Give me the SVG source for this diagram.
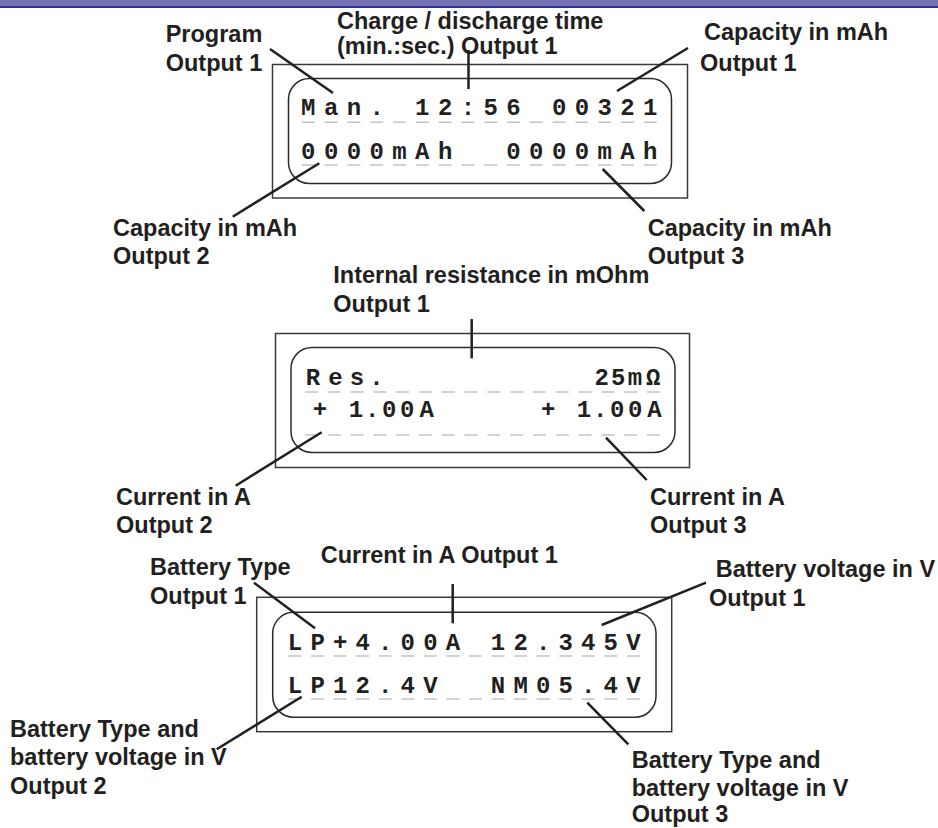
<svg xmlns="http://www.w3.org/2000/svg" width="938" height="828" viewBox="0 0 938 828">
<style>
.lbl{font-family:"Liberation Sans",Arial,sans-serif;font-weight:bold;font-size:23.5px;fill:#231f20}
.lcd{font-family:"Liberation Mono","Courier New",monospace;font-weight:bold;font-size:24px;fill:#231f20;text-anchor:middle;white-space:pre}
.outer{fill:none;stroke:#3a3a3a;stroke-width:1.5}
.inner{fill:none;stroke:#2a2a2a;stroke-width:1.5}
.dash{fill:none;stroke:#c4c4c4;stroke-width:1.5}
.con line{stroke:#231f20;stroke-width:2.5}
</style>
<rect x="0" y="0" width="938" height="828" fill="#ffffff"/>
<rect x="0" y="0" width="938" height="5.5" fill="#7670b4"/>
<rect x="0" y="5.5" width="938" height="2.5" fill="#2e3190"/>

<g id="lcd1">
<rect class="outer" x="272.5" y="64.5" width="415" height="133.5"/>
<rect class="inner" x="288.5" y="78.5" width="383" height="105" rx="21"/>
<path class="dash" stroke-dasharray="13 9.8" d="M301.8 122.3H660M301.8 165H660"/>
<text class="lcd" xml:space="preserve" y="115" x="308.3 331.1 353.9 376.7 399.5 422.3 445.1 467.9 490.7 513.5 536.3 559.1 581.9 604.7 627.5 650.3">Man. 12:56 00321</text>
<text class="lcd" xml:space="preserve" y="159" x="308.3 331.1 353.9 376.7 399.5 422.3 445.1 467.9 490.7 513.5 536.3 559.1 581.9 604.7 627.5 650.3">0000mAh  0000mAh</text>
</g>

<g id="lcd2">
<rect class="outer" x="275.5" y="333.5" width="414" height="134"/>
<rect class="inner" x="291" y="347.5" width="384" height="105" rx="21"/>
<path class="dash" stroke-dasharray="13 9.8" d="M305 392H662M305 435H662"/>
<text class="lcd" y="385" x="313 335.5 357 376.5">Res.</text>
<text class="lcd" y="385" x="601.7 618.3 635 653.3">25mΩ</text>
<text class="lcd" xml:space="preserve" y="417" x="320 338 356 372.3 389.3 407.3 426.7">+ 1.00A</text>
<text class="lcd" xml:space="preserve" y="417" x="548.3 566 584 600.3 617.3 635.3 654.5">+ 1.00A</text>
</g>

<g id="lcd3">
<rect class="outer" x="256.7" y="597.3" width="415" height="134.4"/>
<rect class="inner" x="272.7" y="612.3" width="383.3" height="105" rx="21"/>
<path class="dash" stroke-dasharray="13 9.56" d="M288.5 656H645M288.5 699H645"/>
<text class="lcd" xml:space="preserve" y="650" x="295 317.6 340.1 362.7 385.2 407.8 430.4 452.9 475.5 498 520.6 543.2 565.7 588.3 610.8 633.4">LP+4.00A 12.345V</text>
<text class="lcd" xml:space="preserve" y="693" x="295 317.6 340.1 362.7 385.2 407.8 430.4 452.9 475.5 498 520.6 543.2 565.7 588.3 610.8 633.4">LP12.4V  NM05.4V</text>
</g>

<g id="connectors" class="con">
<line x1="270" y1="49" x2="333" y2="93"/>
<line x1="468.5" y1="50" x2="468.5" y2="89"/>
<line x1="688" y1="48" x2="617" y2="91"/>
<line x1="319.3" y1="163.3" x2="232.7" y2="216.7"/>
<line x1="602.7" y1="169" x2="644.3" y2="211"/>
<line x1="471.7" y1="319" x2="471.7" y2="358.3"/>
<line x1="321.7" y1="432.3" x2="235.7" y2="485.7"/>
<line x1="606" y1="437.7" x2="646.7" y2="480"/>
<line x1="254" y1="582.7" x2="315" y2="628.3"/>
<line x1="452.7" y1="584" x2="452.7" y2="623.3"/>
<line x1="706" y1="582.7" x2="601.7" y2="625"/>
<line x1="301.7" y1="696.7" x2="216.7" y2="749.3"/>
<line x1="587.3" y1="702.7" x2="628.3" y2="744.3"/>
</g>

<g id="lbl-program"><text class="lbl" x="165.7" y="41.7">Program</text><text class="lbl" x="165.7" y="70.7">Output 1</text></g>
<g id="lbl-time"><text class="lbl" x="337" y="29.3">Charge / discharge time</text><text class="lbl" x="337" y="53.5">(min.:sec.) Output 1</text></g>
<g id="lbl-cap1"><text class="lbl" x="704" y="40">Capacity in mAh</text><text class="lbl" x="700" y="70.7">Output 1</text></g>
<g id="lbl-cap2"><text class="lbl" x="113" y="236">Capacity in mAh</text><text class="lbl" x="113" y="264.3">Output 2</text></g>
<g id="lbl-cap3"><text class="lbl" x="647.7" y="236">Capacity in mAh</text><text class="lbl" x="647.7" y="264.3">Output 3</text></g>
<g id="lbl-res"><text class="lbl" x="333.3" y="283.3">Internal resistance in mOhm</text><text class="lbl" x="333.3" y="311.7">Output 1</text></g>
<g id="lbl-cur2"><text class="lbl" x="116" y="505">Current in A</text><text class="lbl" x="116" y="533.3">Output 2</text></g>
<g id="lbl-cur3"><text class="lbl" x="650" y="505">Current in A</text><text class="lbl" x="650" y="533.3">Output 3</text></g>
<g id="lbl-bt1"><text class="lbl" x="150" y="575">Battery Type</text><text class="lbl" x="150" y="604.3">Output 1</text></g>
<g id="lbl-cur1"><text class="lbl" x="320.7" y="563.3">Current in A Output 1</text></g>
<g id="lbl-bv1"><text class="lbl" x="715.7" y="577.3">Battery voltage in V</text><text class="lbl" x="709" y="606">Output 1</text></g>
<g id="lbl-btv2"><text class="lbl" x="10" y="736.7">Battery Type and</text><text class="lbl" x="10" y="765">battery voltage in V</text><text class="lbl" x="10" y="794">Output 2</text></g>
<g id="lbl-btv3"><text class="lbl" x="631.7" y="768">Battery Type and</text><text class="lbl" x="631.7" y="795.5">battery voltage in V</text><text class="lbl" x="631.7" y="822">Output 3</text></g>
</svg>
